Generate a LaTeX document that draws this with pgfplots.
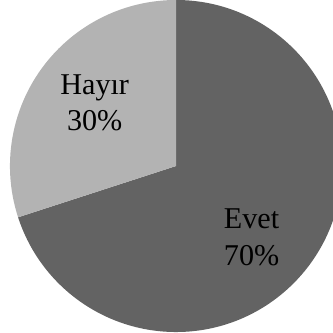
\documentclass[border=0pt]{standalone}
\usepackage{fontspec}
\setmainfont{Liberation Serif}
\usepackage{pgfplots}
\pgfplotsset{compat=1.18}
\definecolor{evetgray}{RGB}{99,99,99}
\definecolor{hayirgray}{RGB}{179,179,179}
\begin{document}
\begin{tikzpicture}
\begin{axis}[
    hide axis,
    scale only axis,
    width=331bp, height=333bp,
    xmin=-1.06, xmax=0.945,
    ymin=-1.012, ymax=1.006,
    clip=true,
]
% Evet 70, Hayir 30 -- clockwise from 12 o'clock
\fill[evetgray] (axis cs:0,0) -- (axis cs:0,1)
    arc[start angle=90, end angle={90-3.6*70}, radius=1] -- cycle;
\fill[hayirgray] (axis cs:0,0) -- (axis cs:{cos(90-3.6*70)},{sin(90-3.6*70)})
    arc[start angle={90-3.6*70}, end angle=-270, radius=1] -- cycle;
\node[align=center, font=\fontsize{30bp}{36bp}\selectfont] at (axis cs:-0.49,0.38) {Hayır\\30\%};
\node[align=center, font=\fontsize{30bp}{36bp}\selectfont] at (axis cs:0.455,-0.43) {Evet\\70\%};
\end{axis}
\end{tikzpicture}
\end{document}
